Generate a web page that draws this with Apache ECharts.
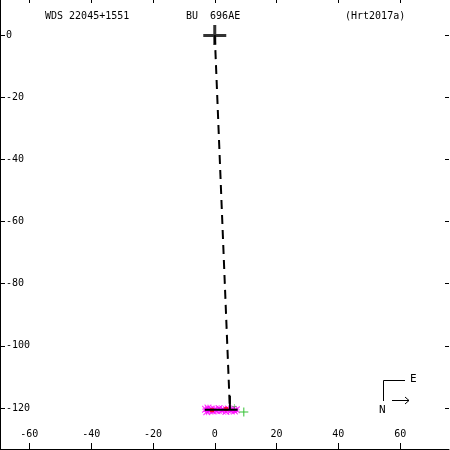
<!DOCTYPE html>
<html><head><meta charset="utf-8">
<script src="https://cdn.jsdelivr.net/npm/echarts@6/dist/echarts.min.js"></script>
<style>html,body{margin:0;padding:0;background:#fff}#c{width:450px;height:450px}</style>
</head><body><div id="c"></div>
<script>
// ---- data ----
var xTicks = [-60, -40, -20, 0, 20, 40, 60];
var yTicks = [0, -20, -40, -60, -80, -100, -120];
var primary = [[0, 0]];
var orbitPath = [[0, 0], [4.9, -120.6]];
var hBar = [[-3.2, -120.6], [7.4, -120.6]];
var vBar = [[4.9, -116.1], [4.9, -120.6]];
var magentaObs = [[-3.0, -120.4], [-2.6, -121.2], [-2.2, -120.0], [-1.8, -120.9], [-1.2, -120.3], [-0.6, -121.0],
  [0.0, -120.5], [0.7, -120.9], [1.4, -120.2], [2.1, -120.8], [2.8, -120.5], [3.6, -121.1], [4.4, -120.3],
  [5.2, -120.9], [5.8, -120.4], [6.4, -121.0], [7.0, -120.6]];
var redObs = [[3.7, -120.3], [-0.9, -120.7]];
var greenObs = [[9.4, -121.3]];
var greenSmall = [[6.3, -119.5]];
var titleLeft = 'WDS 22045+1551';
var titleMid = 'BU  696AE';
var titleRight = '(Hrt2017a)';

var FONT = 'DejaVu Sans Mono';
var plusPath = 'path://M4,0h1v9h-1z M0,4h9v1h-9z';
var bigPlus = 'path://M10,0h3v20h-3z M0,9h23v3h-23z';
var starPath = 'path://M4,0h1v9h-1z M0,4h9v1h-9z M0,0L1,0L9,8L9,9L8,9L0,1z M8,0L9,0L9,1L1,9L0,9L0,8z';

var chart = echarts.init(document.getElementById('c'));
var tickStyle = {color: '#000', width: 1};
chart.setOption({
  animation: false,
  backgroundColor: '#fff',
  grid: {left: 0, top: 0, right: 1, bottom: 1},
  xAxis: [
    {type: 'value', min: -69.5, max: 75.8, position: 'bottom',
     axisLine: {show: true, onZero: false, lineStyle: {color: '#000', width: 1}},
     axisTick: {show: true, inside: true, length: 6, customValues: xTicks, lineStyle: tickStyle},
     axisLabel: {show: true, inside: true, margin: 10, customValues: xTicks, color: '#000', fontFamily: FONT, fontSize: 10},
     splitLine: {show: false}},
    {type: 'value', min: -69.5, max: 75.8, position: 'top',
     axisLine: {show: false, onZero: false},
     axisTick: {show: true, inside: true, length: 3, customValues: xTicks, lineStyle: tickStyle},
     axisLabel: {show: false}, splitLine: {show: false}}
  ],
  yAxis: [
    {type: 'value', min: -133.2, max: 11.3, position: 'left',
     axisLine: {show: true, onZero: false, lineStyle: {color: '#000', width: 1}},
     axisTick: {show: true, inside: true, length: 5, customValues: yTicks, lineStyle: tickStyle},
     axisLabel: {show: true, inside: true, margin: 6, customValues: yTicks, color: '#000', fontFamily: FONT, fontSize: 10},
     splitLine: {show: false}},
    {type: 'value', min: -133.2, max: 11.3, position: 'right',
     axisLine: {show: false, onZero: false},
     axisTick: {show: true, inside: true, length: 4, customValues: yTicks, lineStyle: tickStyle},
     axisLabel: {show: false}, splitLine: {show: false}}
  ],
  series: [
    {type: 'line', data: orbitPath, symbol: 'none', lineStyle: {color: '#000', width: 2, type: [9, 6]}, z: 3},
    {type: 'line', data: hBar, symbol: 'none', lineStyle: {color: '#000', width: 2}, z: 5},
    {type: 'line', data: vBar, symbol: 'none', lineStyle: {color: '#000', width: 2}, z: 5},
    {type: 'scatter', data: magentaObs, symbol: starPath, symbolSize: 7, itemStyle: {color: '#ff00ff'}, z: 3},
    {type: 'scatter', data: redObs, symbol: 'rect', symbolSize: 4, itemStyle: {color: '#ff0000'}, z: 4},
    {type: 'scatter', data: greenObs, symbol: plusPath, symbolSize: 9, itemStyle: {color: '#00b000'}, z: 4},
    {type: 'scatter', data: greenSmall, symbol: plusPath, symbolSize: 5, itemStyle: {color: '#00b000'}, z: 4},
    {type: 'scatter', data: primary, symbol: bigPlus, symbolSize: [23, 20], itemStyle: {color: '#000'}, z: 6}
  ],
  graphic: [
    {type: 'text', left: 45, top: 11, style: {text: titleLeft, font: '10px "DejaVu Sans Mono"', fill: '#000'}},
    {type: 'text', left: 186, top: 11, style: {text: titleMid, font: '10px "DejaVu Sans Mono"', fill: '#000'}},
    {type: 'text', left: 345, top: 11, style: {text: titleRight, font: '10px "DejaVu Sans Mono"', fill: '#000'}},
    {type: 'polyline', shape: {points: [[405, 380.5], [383.5, 380.5], [383.5, 401]]}, style: {stroke: '#000', lineWidth: 1, fill: null}},
    {type: 'polyline', shape: {points: [[392, 400.5], [409, 400.5]]}, style: {stroke: '#000', lineWidth: 1, fill: null}},
    {type: 'polyline', shape: {points: [[405, 397], [409, 400.5], [405, 404]]}, style: {stroke: '#000', lineWidth: 1, fill: null}},
    {type: 'text', left: 410, top: 374, style: {text: 'E', font: '11px "DejaVu Sans Mono"', fill: '#000'}},
    {type: 'text', left: 379, top: 405, style: {text: 'N', font: '11px "DejaVu Sans Mono"', fill: '#000'}}
  ]
});
</script></body></html>
